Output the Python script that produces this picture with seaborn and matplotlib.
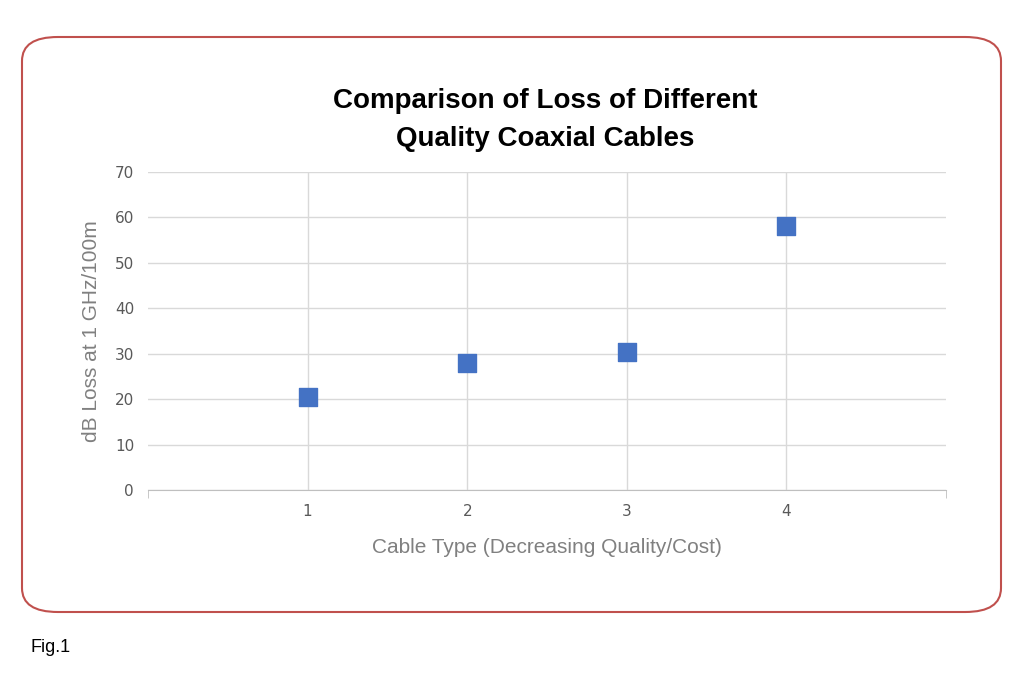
import matplotlib
matplotlib.use("Agg")
import matplotlib.pyplot as plt
import seaborn as sns
import pandas as pd
from matplotlib.patches import FancyBboxPatch

cable_type = [1, 2, 3, 4]
loss_db = [20.5, 28.0, 30.4, 58.1]
x_ticks = [1, 2, 3, 4]
y_ticks = [0, 10, 20, 30, 40, 50, 60, 70]

df = pd.DataFrame({"type": cable_type, "loss": loss_db})

fig = plt.figure(figsize=(10.24, 6.83), dpi=100)
fig.patch.set_facecolor("white")
box = FancyBboxPatch((22/1024, 1-612/683), (1001-22)/1024, (612-37)/683,
                     boxstyle="round,pad=0,rounding_size=0.035", transform=fig.transFigure,
                     facecolor="none", edgecolor="#c0504d", linewidth=1.5, zorder=-1)
fig.patches.append(box)

ax = fig.add_axes([148/1024, 1-490/683, (946-148)/1024, (490-172)/683])
ax.patch.set_alpha(0)
sns.scatterplot(data=df, x="type", y="loss", ax=ax, marker="s", s=150,
                color="#4472c4", edgecolor="#4472c4", zorder=3)
ax.set_xlim(0, 5)
ax.set_ylim(0, 70)
ax.set_xticks(x_ticks)
ax.set_yticks(y_ticks)
ax.grid(True, color="#d9d9d9", linewidth=1)
ax.set_axisbelow(True)
for s in ["top", "right", "left"]:
    ax.spines[s].set_visible(False)
ax.spines["bottom"].set_color("#bfbfbf")
ax.tick_params(axis="both", colors="#595959", labelsize=11, length=0, pad=10)
ax.set_xticks([0, 1, 2, 3, 4, 5], minor=True)
ax.tick_params(axis="x", which="minor", length=6, direction="out", color="#bfbfbf")
ax.set_xlabel("Cable Type (Decreasing Quality/Cost)", fontsize=15, color="#808080",
              labelpad=14, fontfamily="Liberation Sans")
ax.set_ylabel("dB Loss at 1 GHz/100m", fontsize=15, color="#808080",
              labelpad=10, fontfamily="Liberation Sans")

fig.text(545/1024, 1-120/683, "Comparison of Loss of Different\nQuality Coaxial Cables",
         ha="center", va="center", fontsize=20, fontweight="bold", linespacing=1.6,
         fontfamily="Liberation Sans")
fig.text(30/1024, 1-648/683, "Fig.1", ha="left", va="center", fontsize=13,
         fontfamily="Liberation Sans")

fig.savefig("out.png", dpi=100)
